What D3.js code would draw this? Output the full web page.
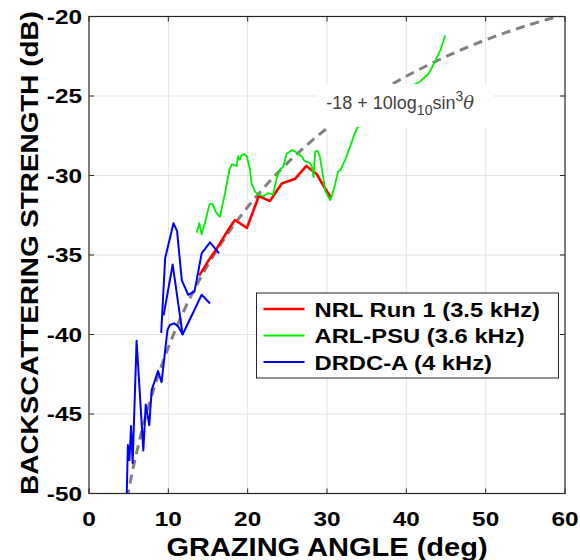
<!DOCTYPE html>
<html>
<head>
<meta charset="utf-8">
<script src="https://cdn.jsdelivr.net/npm/d3@7/dist/d3.min.js"></script>
<style>
    body { margin: 0; background: #fff; }
    svg { font-family: "Liberation Sans", Arial, sans-serif; }
</style>
</head>
<body>
<div id="elements"></div>
<script>
'use strict';
// data: [grazing angle (deg), backscattering strength (dB)]
var nrlRun1 = [[13.9,-36.3],[15.0,-35.4],[16.1,-34.6],[17.7,-33.3],[18.4,-32.8],[19.9,-33.3],
    [21.4,-31.3],[22.8,-31.6],[24.3,-30.5],[26.0,-30.2],[27.4,-29.4],[28.7,-29.9],[29.5,-30.6],[30.5,-31.4]];

var arlPsu = [[13.6,-33.6],[13.9,-33.0],[14.2,-33.7],[14.6,-33.0],[15.2,-31.8],[15.6,-31.8],[16.0,-32.3],
    [16.5,-32.6],[17.15,-31.1],[17.7,-29.65],[18.0,-29.3],[18.6,-29.4],[18.8,-28.8],[19.0,-29.0],[19.25,-28.7],
    [19.6,-28.65],[19.9,-28.8],[20.3,-29.65],[20.5,-30.5],[20.9,-31.0],[21.35,-31.2],[22.0,-31.3],[22.6,-31.1],
    [23.2,-31.2],[23.7,-30.1],[24.1,-29.6],[24.5,-29.45],[24.9,-28.65],[25.6,-28.4],[26.0,-28.5],[26.8,-28.8],
    [27.2,-29.1],[27.8,-29.2],[28.1,-29.45],[28.3,-30.1],[28.5,-28.5],[28.8,-28.45],[29.1,-28.8],[29.45,-29.9],
    [29.8,-31.0],[30.4,-31.55],[30.6,-31.3],[31.0,-30.6],[31.4,-29.75],[31.7,-29.65],[32.3,-29.0],[32.9,-28.2],
    [33.5,-27.35],[33.8,-27.0],[35.0,-26.6],[37.0,-25.9],[39.0,-25.1],[40.5,-24.4],[41.7,-24.1],
    [42.8,-23.6],[43.6,-22.85],[44.3,-22.1],[44.9,-21.2]];

// DRDC-A comes as three overlapping runs
var drdcA1 = [[4.75,-50.2],[4.9,-46.95],[5.1,-47.9],[5.3,-45.75],[5.5,-48.1],[6.0,-40.4],[6.85,-47.3],
    [7.15,-44.4],[7.6,-45.7],[7.9,-43.5],[8.7,-42.3],[9.15,-43.0],[9.6,-41.0],[9.9,-39.7],[10.2,-39.4],
    [10.75,-39.3],[11.25,-39.5],[11.8,-40.0],[14.2,-37.5],[15.25,-38.05]];
var drdcA2 = [[9.1,-39.9],[9.6,-35.2],[10.65,-33.0],[11.1,-33.5],[11.7,-36.6],[12.5,-37.5],[13.3,-37.3],
    [14.2,-34.9],[15.25,-34.2],[16.4,-34.9]];
var drdcA3 = [[9.4,-38.8],[10.55,-35.6],[11.8,-40.0]];

// model curve -18 + 10log10(sin^3 theta), tabulated
var modelAngle = [4.8, 5, 5.5, 6, 7, 8, 9, 10, 12, 14, 16, 18, 20, 22, 25, 28, 30, 35, 40, 45, 50, 55, 60];
var modelBS = [-50.3, -49.79, -48.55, -47.42, -45.42, -43.69, -42.17, -40.81, -38.46, -36.49, -34.79, -33.30,
    -31.98, -30.79, -29.22, -27.85, -27.03, -25.24, -23.76, -22.52, -21.47, -20.60, -19.87];

var xTicks = [0, 10, 20, 30, 40, 50, 60];
var yTicks = [-50, -45, -40, -35, -30, -25, -20];

var series = [
    {label: "NRL Run 1 (3.5 kHz)", color: "#ff0000", width: 2.6, lines: [nrlRun1]},
    {label: "ARL-PSU (3.6 kHz)", color: "#00ee00", width: 1.8, lines: [arlPsu]},
    {label: "DRDC-A (4 kHz)", color: "#0000ff", width: 2.0, lines: [drdcA1, drdcA2, drdcA3]}
];

var canvas_width = 580, canvas_height = 560;
var svg = d3.select("#elements").append("svg")
    .attr("width", canvas_width)
    .attr("height", canvas_height);

var margin = {top: 16.5, right: 15, bottom: 66.5, left: 89};
var width = canvas_width - margin.left - margin.right;
var height = canvas_height - margin.top - margin.bottom;
var g = svg.append("g").attr("transform", "translate(" + margin.left + "," + margin.top + ")");

var x = d3.scaleLinear().domain([0, 60]).range([0, width]);
var y = d3.scaleLinear().domain([-50, -20]).range([height, 0]);

g.append("clipPath").attr("id", "plotclip")
    .append("rect").attr("width", width).attr("height", height);

// grid
g.append("g").selectAll("line")
    .data(xTicks.slice(1, -1))
    .enter().append("line")
    .attr("x1", function(d) { return x(d); }).attr("x2", function(d) { return x(d); })
    .attr("y1", 0).attr("y2", height)
    .attr("stroke", "#e3e3e3").attr("stroke-width", 1);
g.append("g").selectAll("line")
    .data(yTicks.slice(1, -1))
    .enter().append("line")
    .attr("y1", function(d) { return y(d); }).attr("y2", function(d) { return y(d); })
    .attr("x1", 0).attr("x2", width)
    .attr("stroke", "#e3e3e3").attr("stroke-width", 1);

var line = d3.line()
    .x(function(d) { return x(d[0]); })
    .y(function(d) { return y(d[1]); });

var plot = g.append("g").attr("clip-path", "url(#plotclip)");

// model curve (dashed)
plot.append("path")
    .datum(modelAngle.map(function(a, i) { return [a, modelBS[i]]; }))
    .attr("d", d3.line().curve(d3.curveMonotoneX)
        .x(function(d) { return x(d[0]); })
        .y(function(d) { return y(d[1]); }))
    .attr("fill", "none")
    .attr("stroke", "#808080")
    .attr("stroke-width", 3)
    .attr("stroke-dasharray", "9,6");

// measured curves
series.forEach(function(s) {
    plot.append("g").selectAll("path")
        .data(s.lines)
        .enter().append("path")
        .attr("d", line)
        .attr("fill", "none")
        .attr("stroke", s.color)
        .attr("stroke-width", s.width)
        .attr("stroke-linejoin", "round");
});

// model label with white background
var lab = g.append("g").attr("transform", "translate(" + (x(39.1)) + "," + (y(-25.5)) + ")");
lab.append("rect")
    .attr("x", -82).attr("y", -20).attr("width", 176).attr("height", 43)
    .attr("fill", "#fff");
var labText = lab.append("text")
    .attr("x", 1).attr("y", 5)
    .attr("text-anchor", "middle")
    .attr("font-size", 18)
    .attr("fill", "#404040");
labText.append("tspan").text("-18 + 10log");
labText.append("tspan").attr("dy", 6).attr("font-size", 14).text("10");
labText.append("tspan").attr("dy", -6).text("sin");
labText.append("tspan").attr("dy", -8).attr("font-size", 14).text("3");
labText.append("tspan").attr("dy", 8).attr("font-style", "italic")
    .attr("font-family", "'DejaVu Serif', serif").text("\u03b8");

// axes box and ticks (ticks inside on all sides)
var axisColor = "#262626";
var tl = 5;
var ticksG = g.append("g").attr("stroke", axisColor).attr("stroke-width", 1);
ticksG.selectAll(".xt").data(xTicks).enter().append("path")
    .attr("d", function(d) { return "M" + x(d) + "," + height + "v" + (-tl) + "M" + x(d) + ",0v" + tl; });
ticksG.selectAll(".yt").data(yTicks).enter().append("path")
    .attr("d", function(d) { return "M0," + y(d) + "h" + tl + "M" + width + "," + y(d) + "h" + (-tl); });
g.append("rect")
    .attr("width", width).attr("height", height)
    .attr("fill", "none").attr("stroke", axisColor).attr("stroke-width", 1.2);

// tick labels
g.append("g").selectAll("text")
    .data(xTicks).enter().append("text")
    .attr("class", "wide")
    .attr("x", function(d) { return x(d); })
    .attr("y", height + 32)
    .attr("text-anchor", "middle")
    .attr("font-size", 21).attr("font-weight", "bold")
    .text(function(d) { return d; });
g.append("g").selectAll("text")
    .data(yTicks).enter().append("text")
    .attr("class", "wide")
    .attr("x", -7)
    .attr("y", function(d) { return y(d) + 7; })
    .attr("text-anchor", "end")
    .attr("font-size", 21).attr("font-weight", "bold")
    .text(function(d) { return d; });

// axis titles
svg.append("text")
    .attr("class", "wide")
    .attr("x", 327)
    .attr("y", 556)
    .attr("text-anchor", "middle")
    .attr("font-size", 25).attr("font-weight", "bold")
    .text("GRAZING ANGLE (deg)");
svg.append("text")
    .attr("class", "wide")
    .attr("transform", "translate(38,253) rotate(-90)")
    .attr("text-anchor", "middle")
    .attr("font-size", 24).attr("font-weight", "bold")
    .text("BACKSCATTERING STRENGTH (dB)");

// legend
var legend = g.append("g").attr("transform", "translate(" + (256.5 - margin.left) + "," + (293 - margin.top) + ")");
legend.append("rect")
    .attr("width", 302).attr("height", 85)
    .attr("fill", "#fff").attr("stroke", axisColor).attr("stroke-width", 1);
var items = legend.selectAll("g")
    .data(series)
    .enter().append("g")
    .attr("transform", function(d, i) { return "translate(0," + (16 + i * 26.5) + ")"; });
items.append("line")
    .attr("x1", 7).attr("x2", 48)
    .attr("stroke", function(d) { return d.color; })
    .attr("stroke-width", function(d) { return d.width; });
items.append("text")
    .attr("class", "wide")
    .attr("x", 58).attr("y", 7.5)
    .attr("font-size", 20.5).attr("font-weight", "bold")
    .text(function(d) { return d.label; });

// the original bold font runs wider than Liberation Sans Bold
svg.selectAll("text.wide").each(function() {
    var w = this.getComputedTextLength();
    d3.select(this)
        .attr("textLength", w * 1.16)
        .attr("lengthAdjust", "spacingAndGlyphs");
});
</script>
</body>
</html>
